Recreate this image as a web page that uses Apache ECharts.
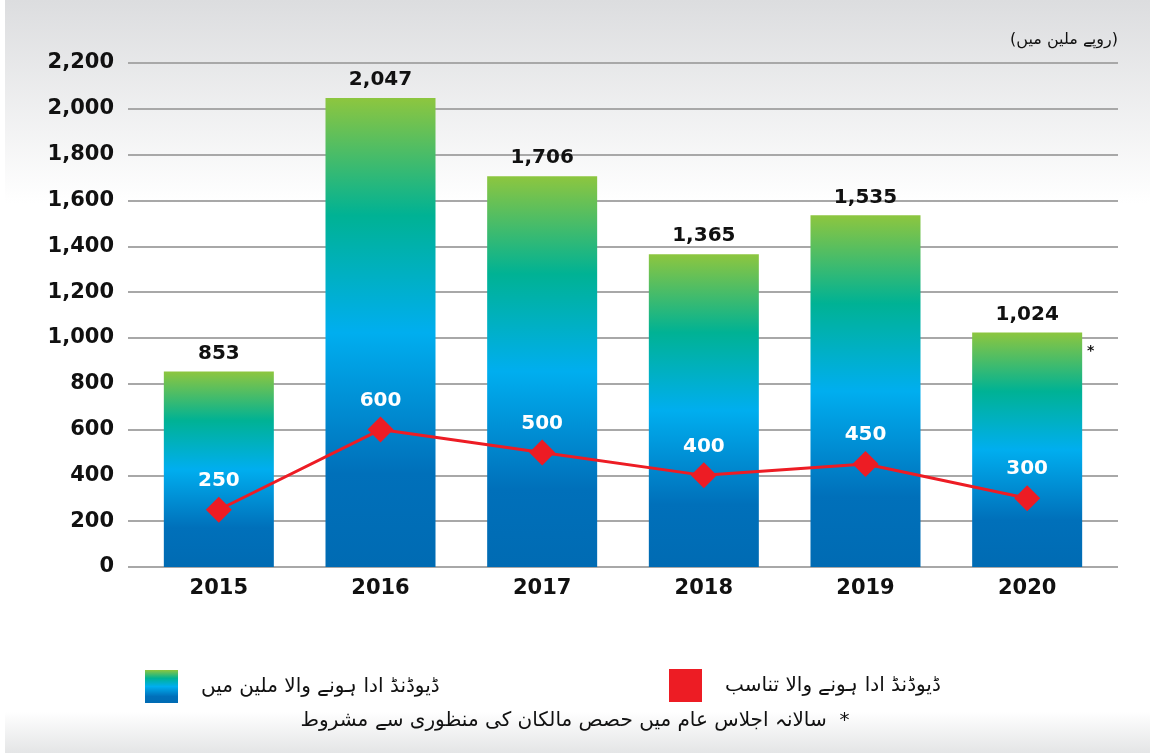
<!DOCTYPE html>
<html>
<head>
<meta charset="utf-8">
<script src="https://cdn.jsdelivr.net/npm/echarts@6/dist/echarts.min.js"></script>
<style>
  html, body { margin: 0; padding: 0; background: #fff; }
  #main { width: 1150px; height: 753px; }
</style>
</head>
<body>
<div id="main"></div>
<script>
// data
var years = ['2015', '2016', '2017', '2018', '2019', '2020'];
var dividendPaid = [853, 2047, 1706, 1365, 1535, 1024];   // روپے ملین میں
var payoutRatio = [250, 600, 500, 400, 450, 300];
var yTicks = { min: 0, max: 2200, step: 200 };

var barName = 'ڈیوڈنڈ ادا ہونے والا ملین میں';
var lineName = 'ڈیوڈنڈ ادا ہونے والا تناسب';
var unitText = '(روپے ملین میں)';
var noteText = 'سالانہ اجلاس عام میں حصص مالکان کی منظوری سے مشروط  *';

var numFont = 'DejaVu Sans';
var urduFont = 'DejaVu Sans';

var barGrad = new echarts.graphic.LinearGradient(0, 0, 0, 1, [
  { offset: 0, color: '#8dc63f' },
  { offset: 0.25, color: '#00b294' },
  { offset: 0.5, color: '#00aeef' },
  { offset: 0.8, color: '#0070ba' },
  { offset: 1, color: '#006bb3' }
]);

var myChart = echarts.init(document.getElementById('main'));

var option = {
  animation: false,
  backgroundColor: '#fff',
  graphic: [
    {
      type: 'rect', z: -10, silent: true,
      shape: { x: 5, y: 0, width: 1145, height: 753 },
      style: {
        fill: new echarts.graphic.LinearGradient(0, 0, 0, 1, [
          { offset: 0, color: '#dcdddf' },
          { offset: 0.27, color: '#ffffff' },
          { offset: 0.945, color: '#ffffff' },
          { offset: 1, color: '#e4e5e6' }
        ])
      }
    },
    {
      type: 'text', right: 32, top: 32,
      style: { text: unitText, font: '16px "' + urduFont + '"', fill: '#111' }
    },
    {
      type: 'text', left: 1087, top: 344,
      style: { text: '*', font: 'bold 14px "' + numFont + '"', fill: '#111' }
    },
    {
      type: 'text', left: 'center', top: 711,
      style: { text: noteText, font: '20px "' + urduFont + '"', fill: '#111' }
    }
  ],
  legend: [
    {
      left: 140, top: 665,
      itemWidth: 33, itemHeight: 33,
      textStyle: { fontFamily: urduFont, fontSize: 20, color: '#111', padding: [0, 0, 0, 18] },
      data: [{ name: barName, icon: 'rect', itemStyle: { color: barGrad } }]
    },
    {
      left: 664, top: 664,
      itemWidth: 33, itemHeight: 33,
      textStyle: { fontFamily: urduFont, fontSize: 20, color: '#111', padding: [0, 0, 0, 18] },
      data: [{ name: lineName, icon: 'rect', itemStyle: { color: '#ed1c24' } }]
    }
  ],
  grid: [
    { left: 128, right: 32, top: 63, bottom: 186 },
    { left: 138, right: 42, top: 63, bottom: 186 }
  ],
  xAxis: [
    { type: 'category', gridIndex: 0, data: years, show: false },
    {
      type: 'category', gridIndex: 1, data: years,
      axisLine: { show: false },
      axisTick: { show: false },
      axisLabel: { margin: 11, color: '#111', fontFamily: numFont, fontWeight: 'bold', fontSize: 21 }
    }
  ],
  yAxis: [
    {
      type: 'value', gridIndex: 0,
      min: yTicks.min, max: yTicks.max, interval: yTicks.step,
      axisLine: { show: false },
      axisTick: { show: false },
      axisLabel: {
        margin: 14, color: '#111', fontFamily: numFont, fontWeight: 'bold', fontSize: 21,
        formatter: function (v) { return v.toLocaleString('en-US'); }
      },
      splitLine: { lineStyle: { color: '#a8a8a8', width: 2 } }
    },
    {
      type: 'value', gridIndex: 1,
      min: yTicks.min, max: yTicks.max, interval: yTicks.step,
      show: false, splitLine: { show: false }
    }
  ],
  series: [
    {
      name: barName,
      type: 'bar',
      xAxisIndex: 1, yAxisIndex: 1,
      barWidth: 110,
      itemStyle: { color: barGrad },
      label: {
        show: true, position: 'top', distance: 8,
        color: '#111', fontFamily: numFont, fontWeight: 'bold', fontSize: 20,
        formatter: function (p) { return p.value.toLocaleString('en-US'); }
      },
      data: dividendPaid,
      z: 2
    },
    {
      name: lineName,
      type: 'line',
      xAxisIndex: 1, yAxisIndex: 1,
      symbol: 'diamond',
      symbolSize: 26,
      lineStyle: { color: '#ed1c24', width: 3 },
      itemStyle: { color: '#ed1c24' },
      label: {
        show: true, position: 'top', distance: 6,
        color: '#fff', fontFamily: numFont, fontWeight: 'bold', fontSize: 20
      },
      data: payoutRatio,
      z: 5
    }
  ]
};

myChart.setOption(option);
</script>
</body>
</html>
